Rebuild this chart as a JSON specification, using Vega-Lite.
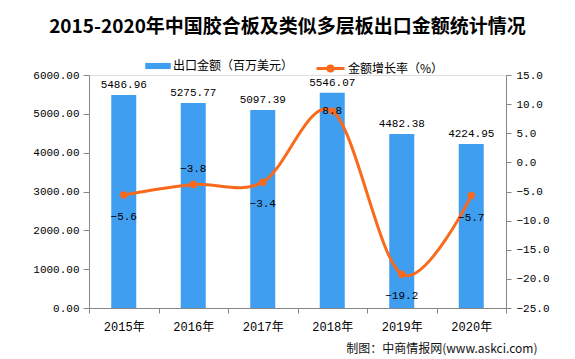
{
  "$schema": "https://vega.github.io/schema/vega-lite/v6.json",
  "width": 417,
  "height": 233,
  "autosize": {"type": "none"},
  "padding": {"left": 89, "top": 75, "right": 69, "bottom": 51},
  "background": "white",
  "title": {
    "text": "2015-2020年中国胶合板及类似多层板出口金额统计情况",
    "font": "Noto Sans CJK SC",
    "fontSize": 19,
    "fontWeight": "bold",
    "color": "#000000",
    "anchor": "middle",
    "dx": -10,
    "offset": 16
  },
  "data": {
    "values": [
      {"year": "2015年", "amount": 5486.96, "rate": -5.6},
      {"year": "2016年", "amount": 5275.77, "rate": -3.8},
      {"year": "2017年", "amount": 5097.39, "rate": -3.4},
      {"year": "2018年", "amount": 5546.07, "rate": 8.8},
      {"year": "2019年", "amount": 4482.38, "rate": -19.2},
      {"year": "2020年", "amount": 4224.95, "rate": -5.7}
    ]
  },
  "encoding": {
    "x": {
      "field": "year",
      "type": "ordinal",
      "sort": null,
      "scale": {"paddingInner": 0, "paddingOuter": 0},
      "axis": {
        "title": "制图：中商情报网(www.askci.com)",
        "titleX": 448,
        "titleY": 40,
        "titleAlign": "right",
        "titleBaseline": "middle",
        "titleFont": "Noto Sans CJK SC",
        "titleFontSize": 12,
        "titleFontWeight": "normal",
        "titleColor": "#111111",
        "labelAngle": 0,
        "labelFont": "Liberation Mono, Noto Sans CJK SC",
        "labelFontSize": 12,
        "labelColor": "#000000",
        "domainColor": "#888888",
        "tickColor": "#888888",
        "tickSize": 5,
        "labelPadding": 8,
        "tickBand": "extent"
      }
    }
  },
  "layer": [
    {
      "encoding": {
        "y": {
          "field": "amount",
          "type": "quantitative",
          "scale": {"domain": [0, 6000]},
          "axis": {
            "title": null,
            "values": [0, 1000, 2000, 3000, 4000, 5000, 6000],
            "format": ".2f",
            "grid": false,
            "domainColor": "#888888",
            "tickColor": "#888888",
            "tickSize": 6,
            "labelPadding": 4,
            "labelFont": "Liberation Mono",
            "labelFontSize": 11,
            "labelColor": "#000000"
          }
        }
      },
      "layer": [
        {
          "mark": {"type": "bar", "size": 25},
          "encoding": {
            "fill": {
              "datum": "出口金额（百万美元）",
              "scale": {"range": ["#409ef0"]},
              "legend": {
                "orient": "none",
                "legendX": 56,
                "legendY": -22,
                "title": null,
                "padding": 0,
                "symbolType": "M-1,-0.24L1,-0.24L1,0.24L-1,0.24Z",
                "symbolSize": 650,
                "symbolStrokeWidth": 0,
                "labelOffset": 2,
                "labelFont": "Noto Sans CJK SC",
                "labelFontSize": 12,
                "labelColor": "#000000"
              }
            }
          }
        },
        {
          "mark": {"type": "text", "dy": -10, "baseline": "middle", "font": "Liberation Mono", "fontSize": 11, "color": "#000000"},
          "encoding": {"text": {"field": "amount", "type": "quantitative", "format": ".2f"}}
        }
      ]
    },
    {
      "encoding": {
        "y": {
          "field": "rate",
          "type": "quantitative",
          "scale": {"domain": [-25, 15]},
          "axis": {
            "orient": "right",
            "title": null,
            "values": [-25, -20, -15, -10, -5, 0, 5, 10, 15],
            "format": ".1f",
            "grid": false,
            "domainColor": "#888888",
            "tickColor": "#888888",
            "tickSize": 5,
            "labelPadding": 5,
            "labelFont": "Liberation Mono",
            "labelFontSize": 11,
            "labelColor": "#000000"
          }
        }
      },
      "layer": [
        {
          "mark": {"type": "line", "interpolate": "cardinal", "strokeWidth": 3},
          "encoding": {
            "stroke": {
              "datum": "金额增长率（%）",
              "scale": {"range": ["#fa6a1c"]},
              "legend": {
                "orient": "none",
                "legendX": 226,
                "legendY": -22,
                "title": null,
                "padding": 0,
                "symbolType": "M-1,0L1,0M0.18,0A0.18,0.18,0,1,1,-0.18,0A0.18,0.18,0,1,1,0.18,0Z",
                "symbolSize": 784,
                "symbolStrokeWidth": 3,
                "symbolFillColor": "#fa6a1c",
                "labelOffset": 2,
                "labelFont": "Noto Sans CJK SC",
                "labelFontSize": 12,
                "labelColor": "#000000"
              }
            }
          }
        },
        {
          "mark": {"type": "point", "shape": "circle", "filled": true, "size": 55, "color": "#fa6a1c", "opacity": 1}
        },
        {
          "transform": [{"filter": "datum.year != '2016年' && datum.year != '2018年'"}],
          "mark": {"type": "text", "dy": 22, "baseline": "middle", "font": "Liberation Mono", "fontSize": 11, "color": "#000000"},
          "encoding": {"text": {"field": "rate", "type": "quantitative", "format": ".1f"}}
        },
        {
          "transform": [{"filter": "datum.year == '2016年'"}],
          "mark": {"type": "text", "dy": -16, "baseline": "middle", "font": "Liberation Mono", "fontSize": 11, "color": "#000000"},
          "encoding": {"text": {"field": "rate", "type": "quantitative", "format": ".1f"}}
        },
        {
          "transform": [{"filter": "datum.year == '2018年'"}],
          "mark": {"type": "text", "dy": 0, "baseline": "middle", "font": "Liberation Mono", "fontSize": 11, "color": "#000000"},
          "encoding": {"text": {"field": "rate", "type": "quantitative", "format": ".1f"}}
        }
      ]
    }
  ],
  "resolve": {"scale": {"y": "independent"}}
}
